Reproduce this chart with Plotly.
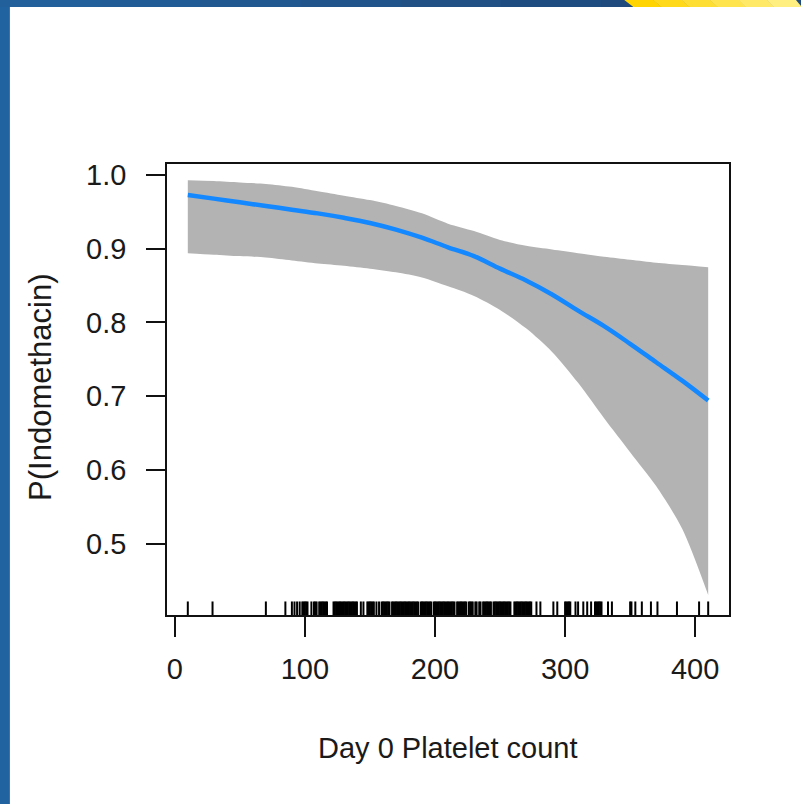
import plotly.graph_objects as go

# ---------------- data ----------------
platelet = [10, 30, 50, 70, 90, 110, 130, 150, 170, 190, 210, 230, 250, 270, 290, 310, 330, 350, 370, 390, 410]
p_fit = [0.973, 0.968, 0.963, 0.958, 0.953, 0.948, 0.942, 0.935, 0.926, 0.915, 0.902, 0.890, 0.873, 0.857, 0.838, 0.816, 0.795, 0.771, 0.746, 0.721, 0.694]
p_upper = [0.993, 0.992, 0.990, 0.988, 0.984, 0.978, 0.972, 0.966, 0.958, 0.948, 0.934, 0.924, 0.912, 0.904, 0.899, 0.894, 0.889, 0.885, 0.881, 0.878, 0.875]
p_lower = [0.894, 0.892, 0.890, 0.888, 0.884, 0.880, 0.877, 0.873, 0.868, 0.861, 0.849, 0.836, 0.817, 0.792, 0.760, 0.718, 0.670, 0.624, 0.578, 0.520, 0.430]

rug_values = [10, 29, 70, 85, 90, 92, 94, 96, 98, 99, 100, 101, 102, 105, 107, 108, 109,
              111, 112, 113, 114, 115, 116, 117, 122, 123, 124, 125, 126, 127, 128, 129, 130,
              131, 132, 133, 134, 135, 136, 137, 138, 139, 140, 143, 145, 148, 149, 150, 151,
              152, 153, 155, 157, 159, 160, 161, 162, 163, 164, 165, 167, 168, 169, 170, 171,
              172, 173, 174, 175, 176, 177, 178, 179, 180, 181, 182, 183, 184, 185, 186, 187,
              189, 190, 191, 192, 193, 194, 195, 196, 197, 199, 200, 201, 202, 203, 204, 205,
              206, 207, 208, 209, 210, 211, 212, 213, 214, 215, 217, 218, 219, 220, 221, 222,
              223, 224, 226, 227, 228, 229, 231, 232, 234, 235, 237, 238, 239, 240, 241, 242,
              243, 245, 246, 247, 248, 249, 250, 251, 252, 253, 254, 255, 256, 257, 258, 261,
              262, 263, 264, 265, 266, 267, 268, 269, 270, 271, 272, 273, 274, 278, 281, 291,
              294, 300, 301, 302, 303, 304, 308, 310, 314, 317, 320, 323, 324, 325, 326, 327,
              328, 333, 336, 350, 351, 354, 359, 366, 371, 386, 403, 410]

x_tick_values = [0, 100, 200, 300, 400]
x_tick_labels = ["0", "100", "200", "300", "400"]
y_tick_values = [0.5, 0.6, 0.7, 0.8, 0.9, 1.0]
y_tick_labels = ["0.5", "0.6", "0.7", "0.8", "0.9", "1.0"]

x_title = "Day 0 Platelet count"
y_title = "P(Indomethacin)"

# ---------------- layout constants ----------------
W, H = 801, 804
L, T = 167, 164
PW, PH = 561.6, 451
R = W - L - PW
B = H - T - PH
XR = [-6, 426]
YR = [0.403, 1.015]
FONT = "Liberation Sans, Arial, sans-serif"


def px_x(px):
    return (px - L) / PW


def px_y(py):
    return (T + PH - py) / PH


fig = go.Figure()

# confidence band: lower edge then fill up to the upper edge
fig.add_trace(go.Scatter(
    x=platelet, y=p_lower, mode="lines",
    line=dict(width=0, color="#b3b3b3", shape="spline", smoothing=0.8),
    hoverinfo="skip", showlegend=False,
))
fig.add_trace(go.Scatter(
    x=platelet, y=p_upper, mode="lines", fill="tonexty", fillcolor="#b3b3b3",
    line=dict(width=0, color="#b3b3b3", shape="spline", smoothing=0.8),
    hoverinfo="skip", showlegend=False,
))

# fitted curve
fig.add_trace(go.Scatter(
    x=platelet, y=p_fit, mode="lines",
    line=dict(color="#1488ff", width=4.5, shape="spline"),
    showlegend=False,
))

# rug
rug_len = 0.03 * (YR[1] - YR[0])
rx, ry = [], []
for v in rug_values:
    rx += [v, v, None]
    ry += [YR[0], YR[0] + rug_len, None]
fig.add_trace(go.Scatter(
    x=rx, y=ry, mode="lines", line=dict(color="black", width=2),
    hoverinfo="skip", showlegend=False,
))

# slide decoration
shapes = []
shapes.append(dict(type="rect", xref="paper", yref="paper",
                   x0=px_x(0), x1=px_x(10), y0=px_y(H), y1=px_y(0),
                   fillcolor="#2163a0", line=dict(width=0), layer="below"))
top_cols = ["#22609c", "#215c96", "#215890", "#20548a", "#205084", "#1f4c80", "#1f4a7e", "#1f4a7e"]
nseg = len(top_cols)
for i, c in enumerate(top_cols):
    shapes.append(dict(type="rect", xref="paper", yref="paper",
                       x0=px_x(W * i / nseg), x1=px_x(W * (i + 1) / nseg + 1),
                       y0=px_y(7), y1=px_y(0),
                       fillcolor=c, line=dict(width=0), layer="below"))
ycols = ["#ffd400", "#ffd91a", "#ffde33", "#ffe44d", "#ffe966", "#ffee80"]
x_top0, x_top1 = 624, 795
x_bot0, x_bot1 = 633, 801
n = len(ycols)
for i, c in enumerate(ycols):
    a0, a1 = i / n, (i + 1) / n
    t0 = x_top0 + (x_top1 - x_top0) * a0
    t1 = x_top0 + (x_top1 - x_top0) * a1 + 0.5
    b0 = x_bot0 + (x_bot1 - x_bot0) * a0
    b1 = x_bot0 + (x_bot1 - x_bot0) * a1 + 0.5
    path = (f"M {px_x(t0)},{px_y(0)} L {px_x(t1)},{px_y(0)} "
            f"L {px_x(b1)},{px_y(7)} L {px_x(b0)},{px_y(7)} Z")
    shapes.append(dict(type="path", xref="paper", yref="paper", path=path,
                       fillcolor=c, line=dict(width=0), layer="below"))

annotations = [
    dict(text=x_title, xref="paper", yref="paper", x=px_x(448), y=px_y(748),
         xanchor="center", yanchor="middle", showarrow=False,
         font=dict(family=FONT, size=29, color="#1a1a1a")),
    dict(text=y_title, xref="paper", yref="paper", x=px_x(40), y=px_y(387),
         xanchor="center", yanchor="middle", showarrow=False, textangle=-90,
         font=dict(family=FONT, size=31, color="#1a1a1a")),
]

fig.update_layout(
    width=W, height=H,
    margin=dict(l=L, r=R, t=T, b=B, pad=0),
    paper_bgcolor="white", plot_bgcolor="white",
    shapes=shapes, annotations=annotations,
    showlegend=False,
    xaxis=dict(range=XR, tickvals=x_tick_values, ticktext=x_tick_labels,
               showgrid=False, zeroline=False, showline=True, mirror=True,
               linecolor="#111", linewidth=1.5, ticks="outside", ticklen=20,
               tickwidth=1.5, tickcolor="#111", ticklabelstandoff=7,
               tickfont=dict(family=FONT, size=29, color="#1a1a1a")),
    yaxis=dict(range=YR, tickvals=y_tick_values, ticktext=y_tick_labels,
               showgrid=False, zeroline=False, showline=True, mirror=True,
               linecolor="#111", linewidth=1.5, ticks="outside", ticklen=19,
               tickwidth=1.5, tickcolor="#111", ticklabelstandoff=14,
               tickfont=dict(family=FONT, size=29, color="#1a1a1a")),
)

fig.write_html("out.html")
